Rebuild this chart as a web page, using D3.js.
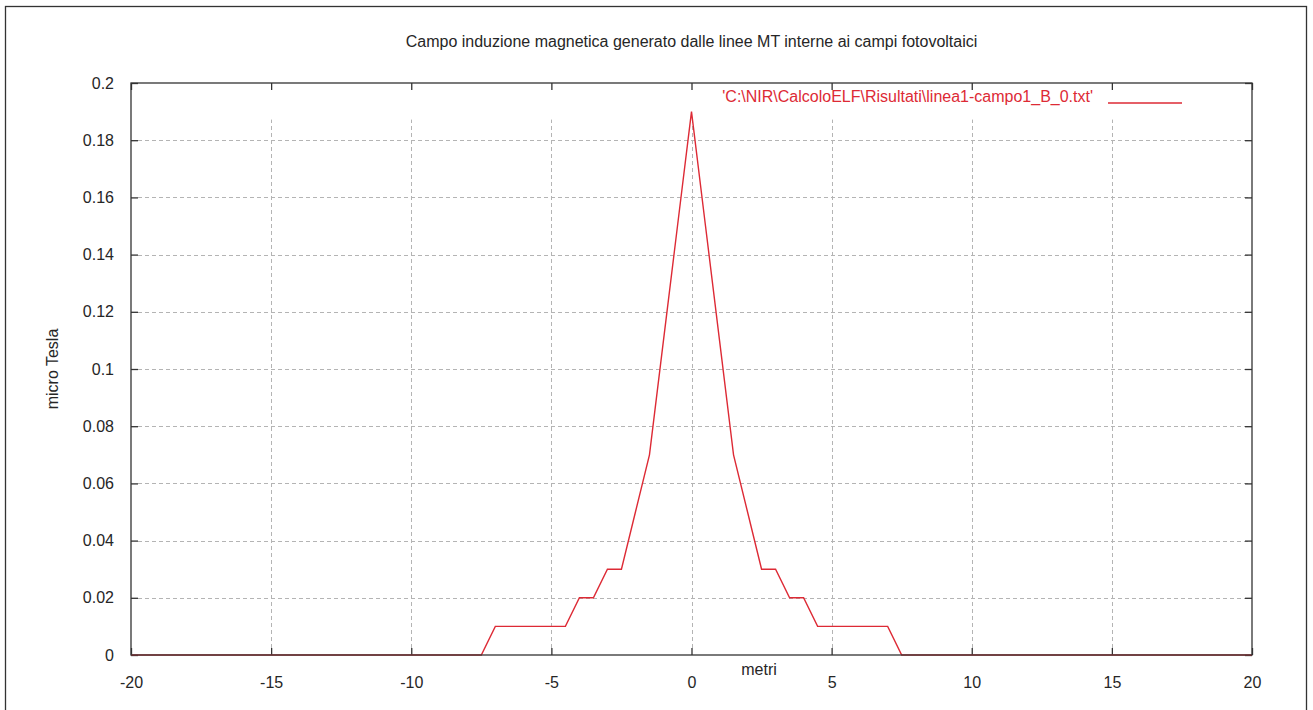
<!DOCTYPE html>
<html>
<head>
<meta charset="utf-8">
<script src="https://cdn.jsdelivr.net/npm/d3@7"></script>
<style>
    body { margin: 0; background: #fff; }
    text { font-family: "Liberation Sans", Arial, sans-serif; }
</style>
</head>
<body>
<div id="chart"></div>
<script>
// data read from the gnuplot output (step 0.5 m)
const metri = [
    -20, -19.5, -19, -18.5, -18, -17.5, -17, -16.5, -16, -15.5,
    -15, -14.5, -14, -13.5, -13, -12.5, -12, -11.5, -11, -10.5,
    -10, -9.5, -9, -8.5, -8, -7.5, -7, -6.5, -6, -5.5,
    -5, -4.5, -4, -3.5, -3, -2.5, -2, -1.5, -1, -0.5,
    0,
    0.5, 1, 1.5, 2, 2.5, 3, 3.5, 4, 4.5, 5,
    5.5, 6, 6.5, 7, 7.5, 8, 8.5, 9, 9.5, 10,
    10.5, 11, 11.5, 12, 12.5, 13, 13.5, 14, 14.5, 15,
    15.5, 16, 16.5, 17, 17.5, 18, 18.5, 19, 19.5, 20
];
const microTesla = [
    0, 0, 0, 0, 0, 0, 0, 0, 0, 0,
    0, 0, 0, 0, 0, 0, 0, 0, 0, 0,
    0, 0, 0, 0, 0, 0, 0.01, 0.01, 0.01, 0.01,
    0.01, 0.01, 0.02, 0.02, 0.03, 0.03, 0.05, 0.07, 0.11, 0.15,
    0.19,
    0.15, 0.11, 0.07, 0.05, 0.03, 0.03, 0.02, 0.02, 0.01, 0.01,
    0.01, 0.01, 0.01, 0.01, 0, 0, 0, 0, 0, 0,
    0, 0, 0, 0, 0, 0, 0, 0, 0, 0,
    0, 0, 0, 0, 0, 0, 0, 0, 0, 0
];
const xTicks = [-20, -15, -10, -5, 0, 5, 10, 15, 20];
const yTicks = [0, 0.02, 0.04, 0.06, 0.08, 0.1, 0.12, 0.14, 0.16, 0.18, 0.2];

const title = "Campo induzione magnetica generato dalle linee MT interne ai campi fotovoltaici";
const xLabel = "metri";
const yLabel = "micro Tesla";
const legendLabel = "'C:\\NIR\\CalcoloELF\\Risultati\\linea1-campo1_B_0.txt'";

const W = 1313, H = 710;
const margin = { top: 83, right: 61, bottom: 55, left: 131 };
const red = "#dd2a35";
const ink = "#262626";

const svg = d3.select("#chart").append("svg")
    .attr("width", W)
    .attr("height", H);

// outer frame
svg.append("rect")
    .attr("x", 5.5).attr("y", 6.5)
    .attr("width", 1301).attr("height", 720)
    .attr("fill", "none")
    .attr("stroke", "#333")
    .attr("stroke-width", 1.3);

const xScale = d3.scaleLinear([-20, 20], [margin.left, W - margin.right]);
const yScale = d3.scaleLinear([0, 0.2], [H - margin.bottom, margin.top]);

// dashed grid
const grid = svg.append("g")
    .attr("stroke", "#b4b4b4")
    .attr("stroke-width", 1)
    .attr("stroke-dasharray", "4,3");
grid.selectAll(".hgrid")
    .data(yTicks.filter(d => d > 0 && d < 0.2))
    .join("line")
    .attr("x1", xScale(-20) + 7).attr("x2", xScale(20))
    .attr("y1", d => Math.round(yScale(d)) + 0.5)
    .attr("y2", d => Math.round(yScale(d)) + 0.5);
grid.selectAll(".vgrid")
    .data(xTicks.filter(d => d > -20 && d < 20))
    .join("line")
    .attr("x1", d => Math.round(xScale(d)) + 0.5)
    .attr("x2", d => Math.round(xScale(d)) + 0.5)
    .attr("y1", yScale(0) - 7).attr("y2", yScale(0.19) + 8);

// axes with inward ticks
const fmt = d => String(d);
const styleAxis = g => {
    g.select(".domain").remove();
    g.selectAll("line").attr("stroke", "#333").attr("stroke-width", 1.3);
    g.selectAll("text")
        .attr("fill", ink)
        .style("font-size", "16px")
        .style("font-family", "'Liberation Sans', Arial, sans-serif");
};

svg.append("g")
    .attr("transform", `translate(0,${yScale(0)})`)
    .call(d3.axisBottom(xScale).tickValues(xTicks).tickFormat(fmt).tickSize(-7).tickPadding(22))
    .call(styleAxis);
svg.append("g")
    .attr("transform", `translate(0,${yScale(0.2)})`)
    .call(d3.axisTop(xScale).tickValues(xTicks).tickFormat("").tickSize(-7))
    .call(styleAxis);
svg.append("g")
    .attr("transform", `translate(${xScale(-20)},0)`)
    .call(d3.axisLeft(yScale).tickValues(yTicks).tickFormat(fmt).tickSize(-7).tickPadding(17))
    .call(styleAxis);
svg.append("g")
    .attr("transform", `translate(${xScale(20)},0)`)
    .call(d3.axisRight(yScale).tickValues(yTicks).tickFormat("").tickSize(-7))
    .call(styleAxis);

// the curve
svg.append("path")
    .datum(metri.map((m, i) => [m, microTesla[i]]))
    .attr("fill", "none")
    .attr("stroke", red)
    .attr("stroke-width", 1.4)
    .attr("d", d3.line()
        .x(d => xScale(d[0]))
        .y(d => yScale(d[1]))
    );

// plot border
svg.append("rect")
    .attr("x", xScale(-20)).attr("y", yScale(0.2))
    .attr("width", xScale(20) - xScale(-20))
    .attr("height", yScale(0) - yScale(0.2))
    .attr("fill", "none")
    .attr("stroke", "#333")
    .attr("stroke-width", 1.3);

// title and axis labels
svg.append("text")
    .attr("x", (xScale(-20) + xScale(20)) / 2)
    .attr("y", 47)
    .attr("text-anchor", "middle")
    .attr("fill", ink)
    .style("font-size", "16px")
    .text(title);

svg.append("text")
    .attr("x", 759)
    .attr("y", 675)
    .attr("text-anchor", "middle")
    .attr("fill", ink)
    .style("font-size", "16px")
    .text(xLabel);

svg.append("text")
    .attr("transform", `translate(52,${(yScale(0) + yScale(0.2)) / 2}) rotate(-90)`)
    .attr("text-anchor", "middle")
    .attr("dominant-baseline", "central")
    .attr("fill", ink)
    .style("font-size", "16px")
    .text(yLabel);

// legend
svg.append("text")
    .attr("x", 1093)
    .attr("y", 102)
    .attr("text-anchor", "end")
    .attr("fill", red)
    .style("font-size", "16px")
    .text(legendLabel);
svg.append("line")
    .attr("x1", 1108).attr("x2", 1182)
    .attr("y1", 103).attr("y2", 103)
    .attr("stroke", red)
    .attr("stroke-width", 1.4);
</script>
</body>
</html>
